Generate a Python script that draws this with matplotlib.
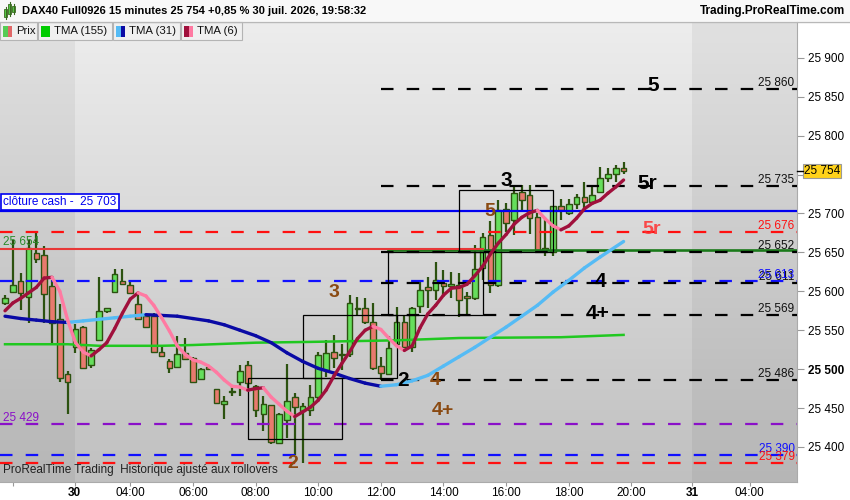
import numpy as np
import matplotlib
matplotlib.use("Agg")
import matplotlib.pyplot as plt
from matplotlib.patches import Rectangle
from matplotlib.collections import LineCollection
from matplotlib.colors import LinearSegmentedColormap

plt.rcParams["font.family"] = ["Liberation Sans", "DejaVu Sans"]
plt.rcParams["lines.scale_dashes"] = False

# 15 min bars: index 0 = 29 juil. 19:45, index 9 = 30 juil. 02:15, index 79 = 19:45
OPEN = [25585, 25599, 25613, 25593, 25649, 25647, 25607, 25565, 25494, 25529,
        25554, 25505, 25538, 25575, 25599, 25613, 25608, 25584, 25568, 25568,
        25522, 25510, 25503, 25521, 25514, 25487, 25503, 25474, 25455, 25470,
        25483, 25505, 25478, 25442, 25454, 25405, 25435, 25464, 25446, 25448,
        25464, 25499, 25522, 25518, 25520, 25577, 25579, 25561, 25504, 25494,
        25532, 25560, 25529, 25581, 25606, 25602, 25611, 25607, 25608, 25594,
        25591, 25630, 25672, 25608, 25706, 25691, 25727, 25724, 25696, 25653,
        25650, 25709, 25700, 25712, 25721, 25715, 25727, 25745, 25751, 25758]
HIGH = [25595, 25666, 25624, 25666, 25675, 25658, 25614, 25584, 25497, 25558,
        25555, 25527, 25618, 25578, 25629, 25629, 25612, 25598, 25569, 25572,
        25528, 25513, 25543, 25540, 25516, 25501, 25504, 25475, 25465, 25477,
        25505, 25510, 25480, 25465, 25454, 25444, 25507, 25469, 25456, 25480,
        25522, 25538, 25544, 25532, 25595, 25593, 25591, 25585, 25516, 25543,
        25580, 25569, 25580, 25612, 25618, 25638, 25628, 25625, 25623, 25599,
        25659, 25675, 25690, 25717, 25713, 25736, 25736, 25736, 25700, 25691,
        25710, 25718, 25718, 25725, 25741, 25736, 25760, 25758, 25762, 25766]
LOW = [25582, 25599, 25576, 25559, 25636, 25559, 25534, 25483, 25443, 25521,
       25501, 25501, 25538, 25572, 25598, 25609, 25598, 25564, 25553, 25521,
       25517, 25495, 25501, 25513, 25482, 25486, 25499, 25456, 25436, 25465,
       25465, 25475, 25438, 25420, 25404, 25404, 25411, 25390, 25379, 25440,
       25460, 25490, 25501, 25499, 25516, 25569, 25558, 25499, 25486, 25492,
       25529, 25527, 25522, 25572, 25578, 25589, 25593, 25592, 25567, 25568,
       25589, 25614, 25598, 25606, 25676, 25672, 25704, 25674, 25650, 25646,
       25645, 25691, 25698, 25706, 25702, 25714, 25726, 25741, 25741, 25751]
CLOSE = [25592, 25608, 25598, 25655, 25641, 25596, 25559, 25489, 25483, 25552,
         25502, 25524, 25575, 25578, 25622, 25609, 25598, 25565, 25554, 25522,
         25517, 25502, 25520, 25513, 25483, 25500, 25500, 25457, 25459, 25472,
         25498, 25482, 25448, 25455, 25406, 25443, 25459, 25451, 25453, 25464,
         25518, 25521, 25514, 25520, 25585, 25579, 25561, 25501, 25495, 25527,
         25561, 25529, 25578, 25602, 25602, 25614, 25607, 25609, 25589, 25591,
         25629, 25670, 25608, 25704, 25688, 25726, 25717, 25694, 25653, 25655,
         25709, 25704, 25712, 25721, 25715, 25724, 25745, 25751, 25759, 25754]

TMA6 = [25575, 25585, 25591, 25598, 25605, 25617, 25618, 25600, 25563, 25534,
        25522, 25517, 25525, 25534, 25552, 25572, 25590, 25598, 25594, 25582,
        25566, 25549, 25530, 25519, 25512, 25509, 25504, 25496, 25486, 25478,
        25477, 25473, 25475, 25476, 25464, 25455, 25446, 25439, 25445, 25451,
        25460, 25473, 25491, 25507, 25522, 25539, 25550, 25555, 25551, 25540,
        25530, 25524, 25530, 25553, 25571, 25582, 25595, 25604, 25605, 25609,
        25620, 25632, 25648, 25662, 25673, 25686, 25695, 25701, 25704, 25693,
        25684, 25679, 25684, 25694, 25706, 25713, 25717, 25726, 25734, 25743]
TMA31_BARS = [0, 2, 4, 6, 8, 10, 12, 14, 16, 18, 20, 22, 24, 26, 28, 30, 32, 34,
              36, 38, 40, 42, 44, 46, 48, 50, 52, 54, 56, 58, 60, 62, 64, 66, 68,
              70, 72, 74, 76, 79]
TMA31 = [25568, 25565, 25563, 25561, 25560, 25562, 25564, 25566, 25568, 25570,
         25569, 25568, 25565, 25562, 25557, 25550, 25543, 25534, 25521, 25510,
         25501, 25495, 25488, 25482, 25478, 25480, 25485, 25492, 25504, 25516,
         25528, 25541, 25554, 25568, 25582, 25599, 25614, 25630, 25644, 25664]
TMA155_BARS = [0, 8, 12, 20, 24, 32, 39, 50, 58, 71, 79]
TMA155 = [25532, 25532, 25530, 25530, 25531, 25534, 25535, 25537, 25540, 25541,
          25544]

# level lines
CASH_CLOSE = 25703
PREV_LINE = 25654
GREEN_LINE = 25653
BLACK_LEVELS = [25860, 25735, 25651, 25611, 25569, 25486]
BLACK_LABELS = ["25 860", "25 735", "25 652", "25 611", "25 569", "25 486"]
DASH_LEVELS = [25676, 25613, 25429, 25390, 25379]
DASH_LABELS = ["25 676", "25 613", "25 429", "25 390", "25 379"]
DASH_COLORS = ["#ff1010", "#1010ff", "#8a10c8", "#1010ff", "#ff1010"]
# pattern boxes: first bar, last bar, low, high
BOXES = [(31, 43, 25410, 25489), (38, 50, 25489, 25569),
         (48.9, 61, 25569, 25650), (58, 70, 25650, 25730)]
# wave marks: text, bar, price, colour
MARKS = [("3", 42.0, 25599, "#8a4a12"), ("5", 61.9, 25702, "#8a4a12"),
         ("2", 36.8, 25379, "#8a4a12"), ("4", 54.9, 25486, "#8a4a12"),
         ("4+", 55.9, 25447, "#8a4a12"),
         ("3", 64.0, 25742, "black"), ("5", 82.8, 25865, "black"),
         ("5r", 82.0, 25738, "black"), ("4", 76.0, 25613, "black"),
         ("4+", 75.7, 25572, "black"), ("2", 50.8, 25486, "black"),
         ("5r", 82.6, 25680, "#ff3030")]

XTICKS = [1, 8.9, 16, 24, 32, 40, 48, 56, 64, 72, 80, 87.8, 95.1]
XLABELS = ["", "30", "04:00", "06:00", "08:00", "10:00", "12:00", "14:00",
           "16:00", "18:00", "20:00", "31", "04:00"]
LAST = 25754

W, H = 850, 500
X0, X1 = -0.64, 101.15
Y0, Y1 = 25355, 25946
PPX = 1.284  # points per pixel

fig = plt.figure(figsize=(W / 100, H / 100), dpi=100)
ax = fig.add_axes([0, 1 - 482 / H, 797 / W, 460 / H])

bg = LinearSegmentedColormap.from_list("bg", ["#c0c0c0", "#ededed"])
ax.imshow(np.linspace(0, 1, 256)[:, None], extent=[X0, X1, Y0, Y1],
          aspect="auto", cmap=bg, origin="lower", zorder=0)
ax.axvspan(X0, 8.9, color="black", alpha=0.05, lw=0, zorder=0.5)
ax.axvspan(87.8, X1, color="black", alpha=0.05, lw=0, zorder=0.5)

wick = "#2c5210"
for i, (o, h, l, c) in enumerate(zip(OPEN, HIGH, LOW, CLOSE)):
    ax.vlines(i, l, h, color=wick, lw=1.6, zorder=2)
    lo, hi = min(o, c), max(o, c)
    ax.add_patch(Rectangle((i - 0.36, lo), 0.72, max(hi - lo, 1.5),
                           fc="#66de5c" if c >= o else "#e87a6e",
                           ec=wick, lw=1.0, zorder=2.5))

# horizontal levels
ax.axhline(CASH_CLOSE, color="#0000f0", lw=1.6, zorder=3)
ax.plot([48.9, X1], [GREEN_LINE] * 2, color="#1a7a1a", lw=1.9, zorder=3)
ax.plot([X0, 61], [PREV_LINE] * 2, color="#e83838", lw=1.5, zorder=3.1)
for p, col in zip(DASH_LEVELS, DASH_COLORS):
    ax.plot([X0, X1], [p, p], color=col, lw=1.6, ls=(0, (9, 9.5)), zorder=3)
for p in BLACK_LEVELS:
    ax.plot([48, X1], [p, p], color="black", lw=1.6, ls=(0, (9, 9.5)),
            zorder=3.2)

ytr = ax.get_yaxis_transform()
for p, lab in zip(BLACK_LEVELS, BLACK_LABELS):
    ax.text(0.997, p + 3 * PPX, lab, transform=ytr, ha="right", va="baseline",
            fontsize=8.5, color="#111111", zorder=6)
for p, lab, col in zip(DASH_LEVELS, DASH_LABELS, DASH_COLORS):
    if lab == "25 429":
        ax.text(0.004, p + 3 * PPX, lab, transform=ytr, ha="left",
                va="baseline", fontsize=8.5, color=col, zorder=6)
    else:
        ax.text(0.997, p + 3 * PPX, lab, transform=ytr, ha="right",
                va="baseline", fontsize=8.5, color=col, zorder=6)
ax.text(0.004, PREV_LINE + 4 * PPX, "25 654", transform=ytr, ha="left",
        va="baseline", fontsize=8.5, color="#2a8a2a", zorder=6)
ax.text(0.004, CASH_CLOSE + 3 * PPX, "clôture cash -  25 703", transform=ytr,
        ha="left", va="bottom", fontsize=8.5, color="#0000f0", zorder=6,
        bbox=dict(boxstyle="square,pad=0.2", fc="white", ec="#0000f0", lw=1.2))

for i0, i1, p0, p1 in BOXES:
    ax.add_patch(Rectangle((i0, p0), i1 - i0, p1 - p0, fill=False,
                           ec="black", lw=0.9, zorder=3.5))


def two_tone(xs, ys, up, down, lw):
    pts = np.column_stack([xs, ys]).astype(float)
    segs = np.stack([pts[:-1], pts[1:]], axis=1)
    cols = [up if b >= a else down for a, b in zip(ys[:-1], ys[1:])]
    ax.add_collection(LineCollection(segs, colors=cols, linewidths=lw,
                                     capstyle="round", joinstyle="round",
                                     zorder=4))


ax.plot(TMA155_BARS, TMA155, color="#20c820", lw=1.8, zorder=4)
two_tone(TMA31_BARS, TMA31, "#55bbf5", "#0a0aa5", 2.4)
two_tone(range(len(TMA6)), TMA6, "#a0103c", "#ff7aa2", 2.4)

for txt, x, y, col in MARKS:
    big = col == "black"
    ax.text(x, y, txt, ha="center", va="center", color=col,
            fontsize=15 if big else 14, fontweight="bold", zorder=7,
            alpha=0.85 if col == "#ff3030" else 1)

ax.text(0.004, 0.012, "ProRealTime Trading  Historique ajusté aux rollovers",
        transform=ax.transAxes, ha="left", va="bottom", fontsize=8.5,
        color="#222222", zorder=7)

ax.set_xlim(X0, X1)
ax.set_ylim(Y0, Y1)
ax.yaxis.tick_right()
yt = list(range(25400, 25901, 50))
ax.set_yticks(yt)
ax.set_yticklabels([f"{v:,}".replace(",", " ") for v in yt])
for t in ax.get_yticklabels():
    if t.get_text() == "25 500":
        t.set_fontweight("bold")
    if t.get_text() == "25 750":
        # covered by the last-price tag in the original
        t.set_visible(False)
ax.set_xticks(XTICKS)
ax.set_xticklabels(XLABELS)
for t in ax.get_xticklabels():
    if t.get_text() in ("30", "31"):
        t.set_fontweight("bold")
        t.set_fontsize(9.5)
ax.tick_params(axis="y", length=5, color="#999999", labelsize=8.5, pad=3)
ax.tick_params(axis="x", length=3, color="#999999", labelsize=8.5, pad=0.5)
for s in ("top", "left"):
    ax.spines[s].set_visible(False)
for s in ("right", "bottom"):
    ax.spines[s].set_color("#aaaaaa")

# chrome: title bar, legend chips, last price tag
ov = fig.add_axes([0, 0, 1, 1], zorder=10)
ov.set_xlim(0, W)
ov.set_ylim(H, 0)
ov.axis("off")
ov.patch.set_visible(False)
ov.add_patch(Rectangle((0, 0), W, 21, fc="#f8f8f8", ec="none"))
ov.plot([0, W], [21.5, 21.5], color="#b8b8b8", lw=1)
for x, y0, y1 in [(6, 9, 17), (10, 4, 14), (14, 6, 12)]:
    ov.plot([x, x], [y0 - 2, y1 + 2], color="#3a6a20", lw=0.8)
    ov.add_patch(Rectangle((x - 1.5, y0), 3, y1 - y0, fc="#55cc44",
                           ec="#3a6a20", lw=0.6))
ov.text(22, 11, "DAX40 Full0926 15 minutes 25 754 +0,85 % 30 juil. 2026, 19:58:32",
        ha="left", va="center", fontsize=8, fontweight="bold", color="black")
ov.text(845, 11, "Trading.ProRealTime.com", ha="right", va="center",
        fontsize=8.5, fontweight="bold", color="black")

chips = [(0, 37, "Prix", ["#55cc55", "#e06868"]),
         (38, 112, "TMA (155)", ["#00cc00"]),
         (113, 180, "TMA (31)", ["#55bbf5", "#0a0aa5"]),
         (181, 242, "TMA (6)", ["#a0103c", "#ff7aa2"])]
for x0, x1, lab, cols in chips:
    ov.add_patch(Rectangle((x0, 22), x1 - x0, 18, fc="#f0f0f0", ec="#b4b4b4",
                           lw=0.8))
    cw = 9 / len(cols)
    for j, c in enumerate(cols):
        ov.add_patch(Rectangle((x0 + 3.5 + j * cw, 25.5), cw, 11, fc=c,
                               ec="none"))
    ov.text(x0 + 16, 31.5, lab, ha="left", va="center", fontsize=8.2,
            color="#111111")

ty = 447 - (LAST - 25400) / PPX
ov.add_patch(Rectangle((803, ty - 7), 38, 14, fc="#ffd21a", ec="#9a9a9a",
                       lw=0.8))
ov.plot([797, 803], [ty, ty], color="black", lw=1)
ov.text(822, ty, f"{LAST:,}".replace(",", " "), ha="center", va="center",
        fontsize=8.5, color="black")

fig.savefig("out.png", dpi=100)
